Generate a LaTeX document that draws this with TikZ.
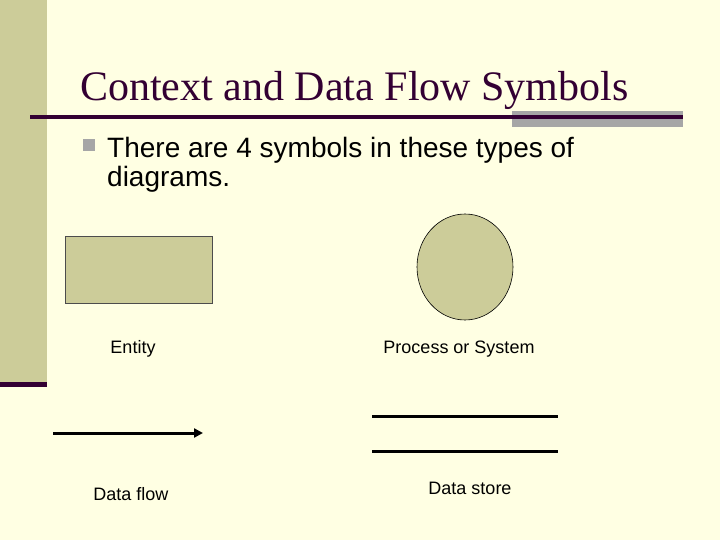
\documentclass[tikz,border=0pt]{standalone}
\usepackage{fontspec}
\setmainfont{Liberation Serif}
\setsansfont{Liberation Sans}
\usetikzlibrary{arrows.meta,shapes.geometric}
\definecolor{bgc}{HTML}{FFFFE3}
\definecolor{olive}{HTML}{CCCC99}
\definecolor{plum}{HTML}{330033}
\definecolor{grayb}{HTML}{A6A6A6}
\tikzset{
  lbl/.style={font=\sffamily\fontsize{18}{21}\selectfont, text=black, inner sep=0pt, anchor=base},
  bul/.style={font=\sffamily\fontsize{28}{29}\selectfont, text=black, inner sep=0pt, anchor=base west},
  thick3/.style={line width=3pt, black},
}
\begin{document}
\begin{tikzpicture}[x=1pt,y=-1pt]
\useasboundingbox (0,0) rectangle (720,540);
\fill[bgc] (0,0) rectangle (720,540);
% left bar
\fill[olive] (0,0) rectangle (47,382);
\fill[plum] (0,382) rectangle (47,387);
% title underline and gray bar
\fill[grayb] (512,111) rectangle (683,127);
\fill[plum] (30,115.5) rectangle (683,119);
% title
\node[anchor=base west, inner sep=0pt, text=plum, font=\fontsize{42}{46}\selectfont] (title) at (80,101) {Context and Data Flow Symbols};
% bullet
\fill[grayb] (83,139) rectangle (95,151);
\node[bul] (b1) at (107,158) {There are 4 symbols in these types of};
\node[bul] (b2) at (107,187) {diagrams.};
% entity
\node[draw=black!70, line width=0.6pt, fill=olive, minimum width=147pt, minimum height=67pt, inner sep=0pt] (entity) at (138.5,269.5) {};
\node[lbl] (entl) at (133,353) {Entity};
% process
\node[draw=black, line width=0.6pt, fill=olive, ellipse, minimum width=96pt, minimum height=106pt, inner sep=0pt] (proc) at (465,267) {};
\node[lbl] (procl) at (459,353) {Process or System};
% data flow
\coordinate (fa) at (53,433);
\coordinate (fb) at (203,433);
\draw[thick3, -{Triangle[length=9pt,width=9pt]}] (fa) -- (fb);
\node[lbl] (flowl) at (131,500.5) {Data flow};
% data store
\coordinate (s1a) at (372,416);
\coordinate (s1b) at (558,416);
\coordinate (s2a) at (372,451);
\coordinate (s2b) at (558,451);
\draw[thick3] (s1a) -- (s1b);
\draw[thick3] (s2a) -- (s2b);
\node[lbl] (storel) at (470,494.5) {Data store};
\end{tikzpicture}
\end{document}
